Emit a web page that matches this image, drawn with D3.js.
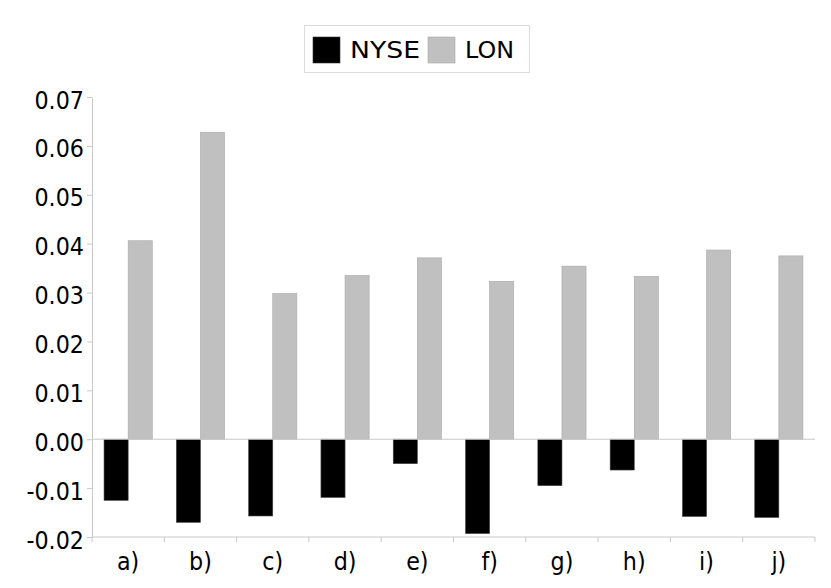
<!DOCTYPE html>
<html><head><meta charset="utf-8">
<script src="https://cdn.jsdelivr.net/npm/d3@7"></script>
<style>body{margin:0;background:#fff}svg{display:block}text{font-family:"DejaVu Sans",Verdana,sans-serif}</style>
</head><body>
<script>
const categories = ["a)","b)","c)","d)","e)","f)","g)","h)","i)","j)"];
const nyse = [-0.0125,-0.0170,-0.0157,-0.0119,-0.0050,-0.0193,-0.0095,-0.0063,-0.0158,-0.0160];
const lon = [0.0406,0.0628,0.0298,0.0335,0.0371,0.0323,0.0354,0.0333,0.0387,0.0375];
const seriesNames = ["NYSE","LON"];
const seriesColors = ["#000000","#c0c0c0"];
const yTicks = [-0.02,-0.01,0,0.01,0.02,0.03,0.04,0.05,0.06,0.07];

(function(){
const W=831,H=588;
const svg=d3.select("body").append("svg").attr("width",W).attr("height",H);
const mL=92,mR=815,mT=97,mB=537;
const x=d3.scaleBand().domain(categories).range([mL,mR]).paddingInner(0).paddingOuter(0);
const inner=d3.scaleBand().domain(seriesNames).range([x.bandwidth()/6, x.bandwidth()*5/6]);
const y=d3.scaleLinear().domain([-0.02,0.07]).range([mB,mT]);
const squeeze=0.89;
function compress(sel){
  sel.each(function(){
    const w=this.getComputedTextLength();
    d3.select(this).attr("textLength",w*squeeze).attr("lengthAdjust","spacingAndGlyphs");
  });
}

// y axis
const fmt=v=>d3.format(".2f")(v).replace("\u2212","-");
const ya=svg.append("g").attr("transform",`translate(${mL},0)`)
  .call(d3.axisLeft(y).tickValues(yTicks).tickFormat(fmt).tickSize(5).tickSizeOuter(0));
ya.select(".domain").attr("stroke","#c8c8c8");
ya.selectAll(".tick line").attr("stroke","#c8c8c8");
ya.selectAll(".tick text").attr("font-size",25).attr("fill","#000").attr("x",-8).attr("dy","0.44em")
  .style("font-family","'DejaVu Sans',Verdana,sans-serif").call(compress);

// bars
const data=categories.map((c,i)=>({c,vals:[nyse[i],lon[i]]}));
const g=svg.append("g");
data.forEach(d=>{
  d.vals.forEach((v,j)=>{
    g.append("rect")
      .attr("x",x(d.c)+inner(seriesNames[j]))
      .attr("width",inner.bandwidth())
      .attr("y",y(Math.max(0,v)))
      .attr("height",Math.abs(y(v)-y(0)))
      .attr("fill",seriesColors[j])
      .attr("stroke",j===0?"#444":"#a8a8a8").attr("stroke-width",0.6);
  });
});

// zero line
svg.append("line").attr("x1",mL).attr("x2",mR).attr("y1",y(0)).attr("y2",y(0))
  .attr("stroke","#c8c8c8").attr("stroke-width",1);

// x axis at bottom
const xa=svg.append("g").attr("transform",`translate(0,${mB})`);
xa.append("line").attr("x1",mL).attr("x2",mR).attr("stroke","#c8c8c8");
const bounds=categories.map(c=>x(c)).concat([x(categories[categories.length-1])+x.bandwidth()]);
xa.selectAll(".bt").data(bounds).enter().append("line")
  .attr("x1",d=>d).attr("x2",d=>d).attr("y1",0).attr("y2",5).attr("stroke","#c8c8c8");
xa.selectAll(".lbl").data(categories).enter().append("text")
  .attr("x",d=>x(d)+x.bandwidth()/2).attr("y",33).attr("text-anchor","middle")
  .attr("font-size",25).attr("fill","#000").text(d=>d).call(compress);

// legend
const lg=svg.append("g");
lg.append("rect").attr("x",304.5).attr("y",25.5).attr("width",225).attr("height",47)
  .attr("fill","#fff").attr("stroke","#dcdcdc");
const lx=[313,428];
const lw=[70,49];
seriesNames.forEach((n,i)=>{
  lg.append("rect").attr("x",lx[i]).attr("y",37).attr("width",27).attr("height",26)
    .attr("fill",seriesColors[i]).attr("stroke",i===0?"#333":"#a8a8a8").attr("stroke-width",0.6);
  lg.append("text").attr("x",lx[i]+37).attr("y",58).attr("font-size",23).attr("fill","#000")
    .attr("textLength",lw[i]).attr("lengthAdjust","spacingAndGlyphs").text(n);
});
})();
</script>
</body></html>
